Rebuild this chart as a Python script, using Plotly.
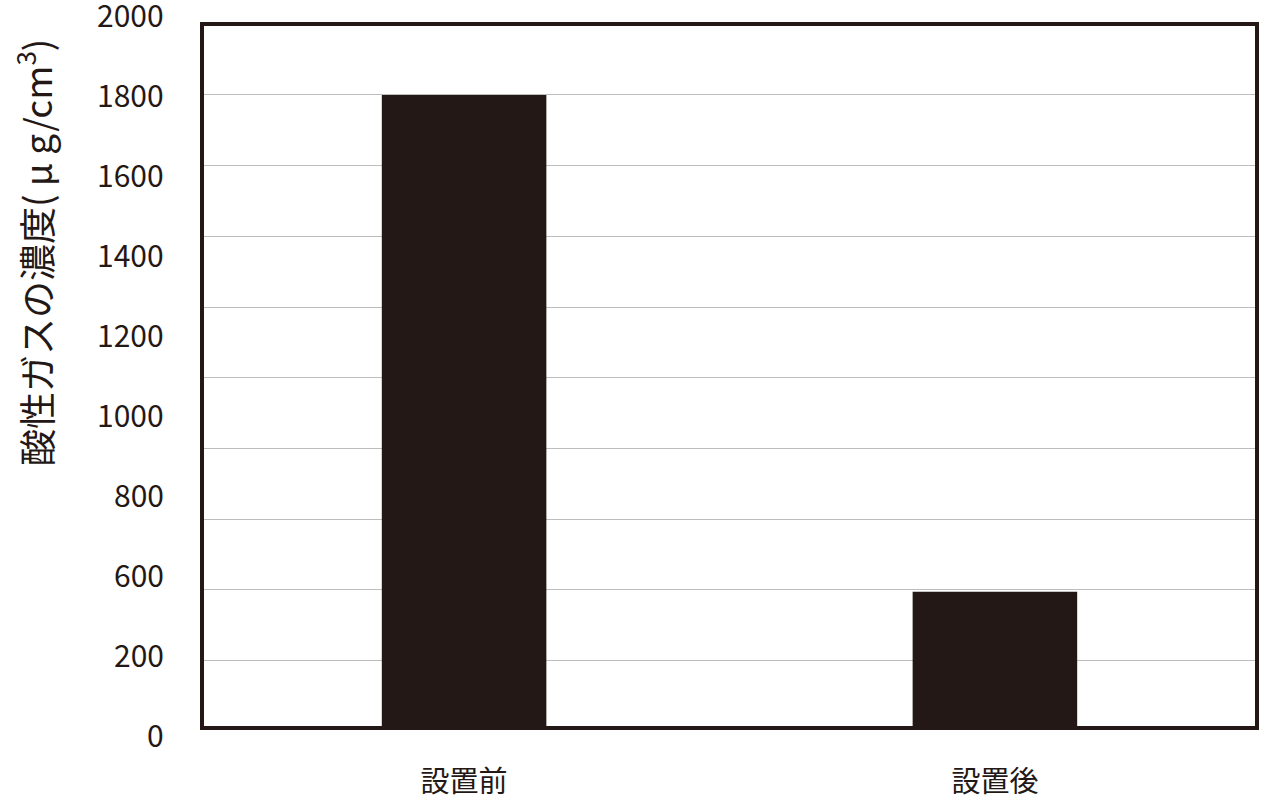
import plotly.graph_objects as go

categories = ["設置前", "設置後"]
values = [1800, 395]
tick_labels = ["2000", "1800", "1600", "1400", "1200", "1000", "800", "600", "200", "0"]

INK = "#231815"
FONT = "Noto Sans CJK JP"

fig = go.Figure()
fig.add_trace(go.Bar(
    x=categories, y=values,
    marker=dict(color=INK, line=dict(width=0)),
    width=0.31,
))

# plot area inside the frame: top 26px, bottom 726px
plot_top, plot_bottom = 26, 726
plot_h = plot_bottom - plot_top

# the reference's value labels sit on their own 80px rhythm, not on the gridlines
annotations = []
for i, lab in enumerate(tick_labels):
    py = 14 + 80 * i
    annotations.append(dict(
        text=lab, xref="paper", yref="paper",
        x=0, xanchor="right", xshift=-38,
        y=(plot_bottom - py) / plot_h, yanchor="middle",
        showarrow=False, font=dict(family=FONT, size=30, color=INK),
    ))

annotations.append(dict(
    text="酸性ガスの濃度( μ g/cm<sup>3</sup>)", xref="paper", yref="paper",
    x=0, xanchor="center", xshift=-170,
    y=(plot_bottom - 253) / plot_h, yanchor="middle",
    textangle=-90, showarrow=False,
    font=dict(family=FONT, size=37, color=INK),
))

fig.update_layout(
    autosize=True,
    margin=dict(l=204, r=7, t=plot_top, b=800 - plot_bottom, autoexpand=False),
    paper_bgcolor="white", plot_bgcolor="white",
    showlegend=False,
    bargap=0.69,
    annotations=annotations,
    font=dict(family=FONT, color=INK),
)
fig.update_xaxes(
    range=[-0.49, 1.49],
    showline=True, linecolor=INK, linewidth=4, mirror=True,
    showgrid=False, ticks="", ticklabelstandoff=27, automargin=False,
    tickfont=dict(family=FONT, size=29, color=INK),
)
fig.update_yaxes(
    range=[15, 1995], automargin=False,
    showline=True, linecolor=INK, linewidth=4, mirror=True,
    showticklabels=False, ticks="",
    showgrid=True, gridcolor="#bdbdbd", gridwidth=1,
    tick0=0, dtick=200, zeroline=False,
)

fig.write_html(
    "out.html",
    config={"displayModeBar": False},
    default_width="100vw", default_height="100vh",
    post_script="document.body.style.margin='0';document.body.style.overflow='hidden';",
)
